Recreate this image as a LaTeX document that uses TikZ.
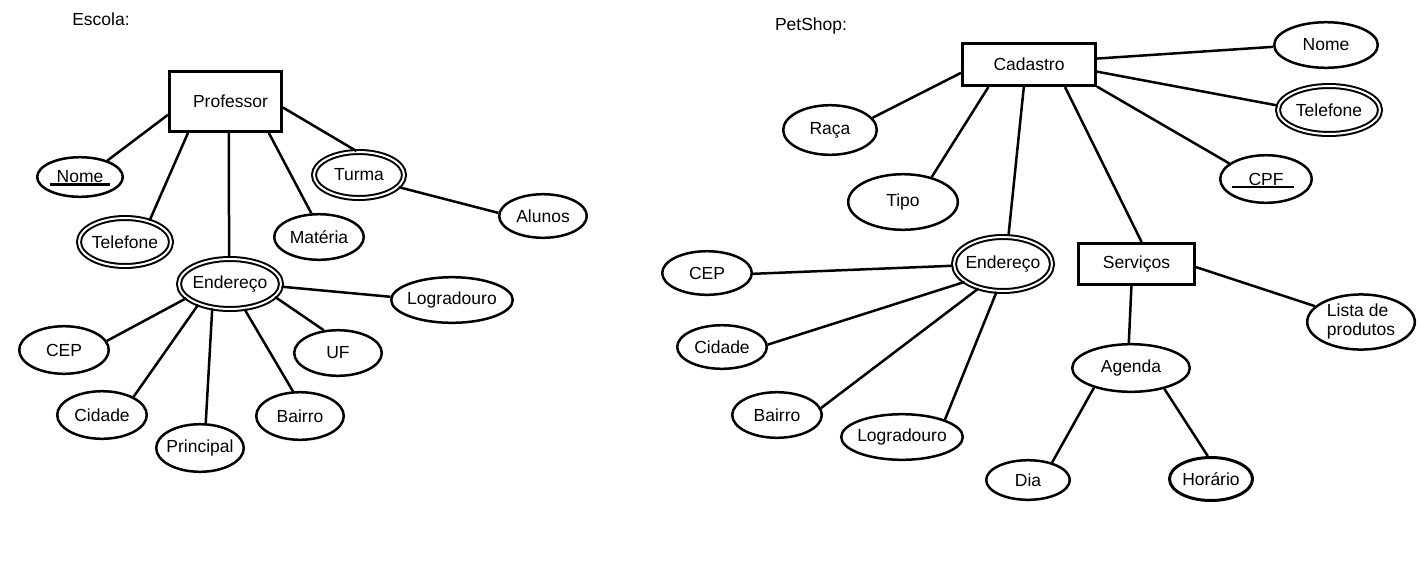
\documentclass[tikz,border=0pt]{standalone}
\usepackage{fontspec}
\setmainfont{Liberation Sans}
\usetikzlibrary{shapes.geometric}
\newcommand\zt[1]{\makebox[0pt]{#1}}
\begin{document}
\begin{tikzpicture}[x=1pt,y=-1pt,
  every node/.style={font=\fontsize{17.5}{20}\selectfont},
  ent/.style 2 args={draw, rectangle, line width=3pt, inner sep=0pt, minimum width=#1pt, minimum height=#2pt},
  att/.style 2 args={draw, ellipse, line width=2.5pt, inner sep=0pt, minimum width=#1pt, minimum height=#2pt},
  matt/.style 2 args={draw, ellipse, double, line width=2pt, double distance=2pt, inner sep=0pt, minimum width=#1pt, minimum height=#2pt},
  link/.style={line width=2.5pt},
  ul/.style={line width=2.5pt}]
\fill[white] (0,0) rectangle (1421,574);
\useasboundingbox (0,0) rectangle (1421,574);

% ---------- Escola ----------
\node (escola) at (101,19) {Escola:};
\node[ent={112}{60}] (prof) at (225.5,101.5) {\zt{\hspace{10pt}Professor}};
\node[att={85.6}{39.6}] (nome) at (80,177) {\zt{Nome}};
\node[matt={92}{48}] (tel) at (125,242) {\zt{Telefone}};
\node[matt={102}{50}] (end) at (230,284) {\zt{Endereço}};
\node[att={89.6}{45.6}] (mat) at (319,237) {\zt{Matéria}};
\node[matt={90}{46}] (tur) at (359,175) {\zt{Turma}};
\node[att={87.6}{43.6}] (alu) at (543,216) {\zt{Alunos}};
\node[att={121.6}{45.6}] (log) at (452,300) {\zt{Logradouro}};
\node[att={89.6}{47.6}] (cep) at (64,350) {\zt{CEP}};
\node[att={87.6}{45.6}] (uf) at (338,353) {\zt{UF}};
\node[att={89.6}{47.6}] (cid) at (102,415) {\zt{Cidade}};
\node[att={87.6}{47.6}] (bai) at (300,416) {\zt{Bairro}};
\node[att={87.6}{47.6}] (pri) at (200,448) {\zt{Principal}};

\draw[ul] ([shift={(-30,7.5)}]nome.center) -- ([shift={(30,7.5)}]nome.center);

\draw[link] (prof.193) -- (nome.31);
\draw[link] (prof.220) -- (tel.41);
\draw[link] (prof.276) -- (end.92);
\draw[link] (prof.324) -- (mat.108);
\draw[link] (prof.354) -- (tur.96);
\draw[link] (tur.343) -- (alu.176);
\draw[link] (end.357) -- (log.177);
\draw[link] (end.198) -- (cep.12);
\draw[link] (end.213) -- (cid.30);
\draw[link] (end.234) -- (pri.77);
\draw[link] (end.300) -- (bai.106);
\draw[link] (end.344) -- (uf.122);

% ---------- PetShop ----------
\node (petshop) at (811,26) {PetShop:};
\node[ent={133}{42}] (cad) at (1029,64.5) {\zt{Cadastro}};
\node[att={103.6}{45.6}] (nome2) at (1326,45) {\zt{Nome}};
\node[matt={102}{48}] (tel2) at (1329,110) {\zt{Telefone}};
\node[att={91.6}{47.6}] (cpf) at (1266,179) {\zt{CPF}};
\node[att={93.6}{49.6}] (raca) at (830,130) {\zt{Raça}};
\node[att={109.6}{55.6}] (tipo) at (903,202) {\zt{Tipo}};
\node[matt={98}{54}] (end2) at (1003,264) {\zt{Endereço}};
\node[ent={116}{41}] (serv) at (1136.5,264) {\zt{Serviços}};
\node[att={89.6}{43.6}] (cep2) at (707,273) {\zt{CEP}};
\node[att={89.6}{43.6}] (cid2) at (722,347) {\zt{Cidade}};
\node[att={89.6}{45.6}] (bai2) at (777,415) {\zt{Bairro}};
\node[att={121.6}{45.6}] (log2) at (902,437) {\zt{Logradouro}};
\node[att={117.6}{47.6}] (age) at (1131,368) {\zt{Agenda}};
\node[att={107.6}{51.6}] (lis) at (1361,322) {\zt{\begin{tabular}{@{}l@{}}Lista de\\[-1pt]produtos\end{tabular}}};
\node[att={83.6}{39.6}] (dia) at (1028,480) {\zt{Dia}};
\node[att={83}{43}, line width=3pt] (hor) at (1211,479) {\zt{Horário}};

\draw[ul] ([shift={(-34,8)}]cpf.center) -- ([shift={(28,8)}]cpf.center);

\draw[link] (cad.5) -- (nome2.182);
\draw[link] (cad.354) -- (tel2.175);
\draw[link] (cad.342) -- (cpf.157);
\draw[link] (cad.187) -- (raca.16);
\draw[link] (cad.209) -- (tipo.41);
\draw[link] (cad.257) -- (end2.79);
\draw[link] (cad.328) -- (serv.77);
\draw[link] (end2.182) -- (cep2.359);
\draw[link] (end2.205) -- (cid2.3);
\draw[link] (end2.225) -- (bai2.9);
\draw[link] (end2.257) -- (log2.22);
\draw[link] (serv.257) -- (age.95);
\draw[link] (serv.357) -- (lis.161);
\draw[link] (age.208) -- (dia.36);
\draw[link] (age.328) -- (hor.98);
\end{tikzpicture}
\end{document}
